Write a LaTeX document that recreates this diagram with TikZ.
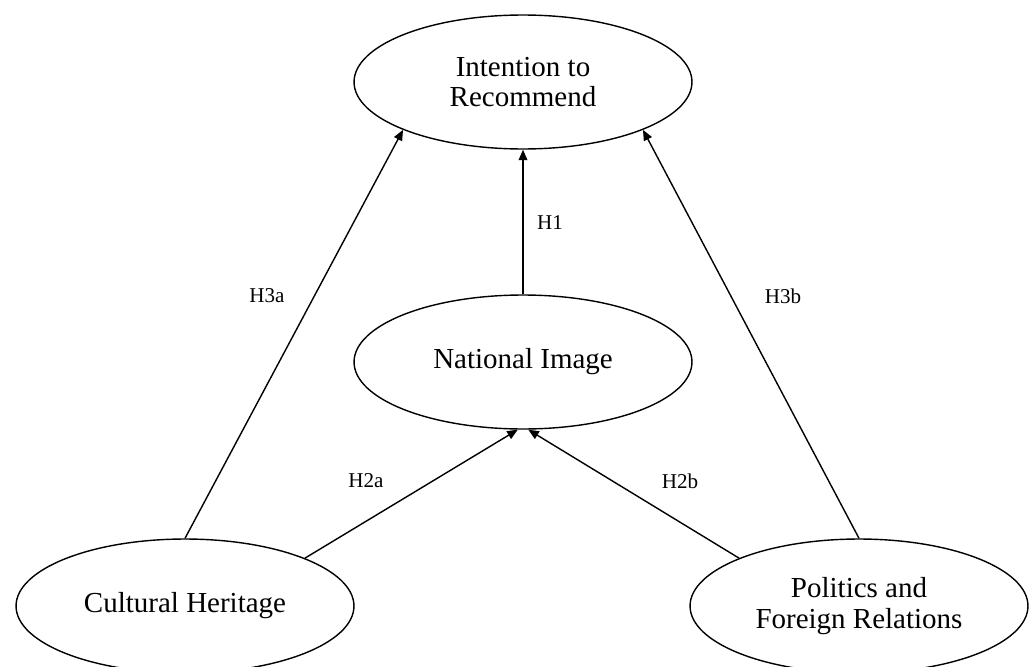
\documentclass[tikz,border=0pt]{standalone}
\usepackage{fontspec}
\setmainfont{Liberation Serif}
\usetikzlibrary{arrows.meta,positioning,shapes.geometric}
\tikzset{
   construct/.style = {draw, ellipse, line width=0.8pt, inner sep=0pt,
                      minimum width=6.76cm, minimum height=2.68cm,
                      align=center, font=\fontsize{16.5}{17.5}\selectfont},
         hyp/.style = {->, line width=0.8pt},
      hyplbl/.style = {font=\fontsize{12}{14}\selectfont, inner sep=0pt},
}
\begin{document}
\begin{tikzpicture}[x=0.02cm,y=-0.02cm,>={Triangle[length=6pt,width=5pt]}]
 \useasboundingbox (0,0) rectangle (1030,666);
 % constructs
 \node[construct] (IR) at (523,82) {Intention to\\Recommend};
 \node[construct] (NI) at (523,362) {National Image};
 \node[construct] (CH) at (185,606) {Cultural Heritage};
 \node[construct] (PF) at (859,606) {Politics and\\Foreign Relations};
 % paths
 \draw[hyp] (NI.north) -- (IR.south);
 \draw[hyp] (CH.north) -- (IR.south west);
 \draw[hyp] (PF.north) -- (IR.south east);
 \draw[hyp] (CH.north east) -- ([xshift=-3pt]NI.south);
 \draw[hyp] (PF.north west) -- ([xshift=3pt]NI.south);
 % labels
 \path[nodes=hyplbl]
    (550,223) node (h1){H1}
    (267,296) node (h3a){H3a}
    (783,296) node (h3b){H3b}
    (366,481) node (h2a){H2a}
    (680,481) node (h2b){H2b};
\end{tikzpicture}
\end{document}
